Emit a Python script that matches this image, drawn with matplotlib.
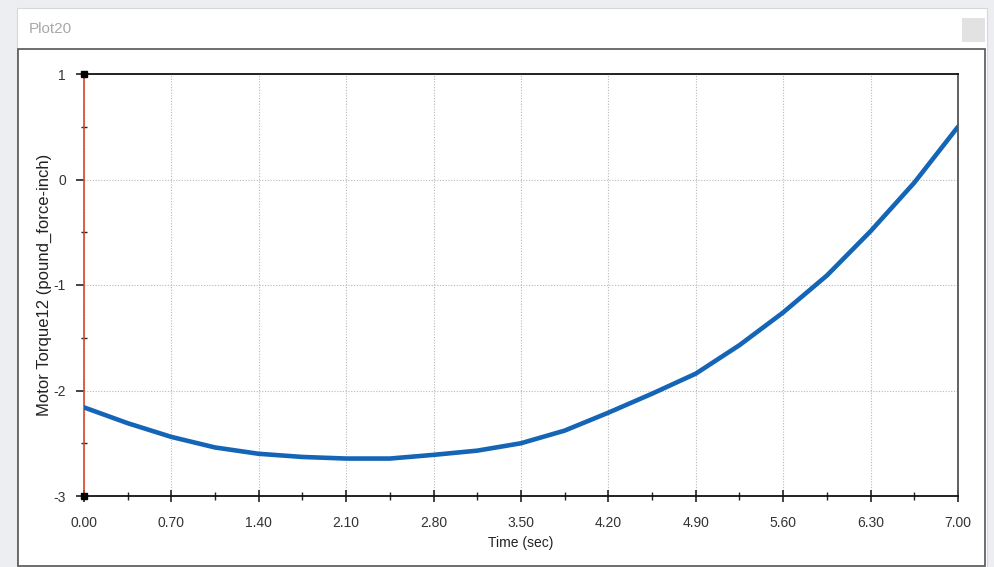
import numpy as np
import matplotlib.pyplot as plt
from matplotlib.patches import Rectangle
from matplotlib.ticker import MultipleLocator, FormatStrFormatter

plt.rcParams['font.family'] = ['Liberation Sans', 'DejaVu Sans']
plt.rcParams['axes.unicode_minus'] = False

# values
time_sec = [0.0, 0.35, 0.70, 1.05, 1.40, 1.75, 2.10, 2.45, 2.80, 3.15, 3.50,
            3.85, 4.20, 4.55, 4.90, 5.25, 5.60, 5.95, 6.30, 6.65, 7.00]
torque = [-2.16, -2.31, -2.44, -2.54, -2.60, -2.63, -2.645, -2.645, -2.61, -2.57, -2.50,
          -2.38, -2.21, -2.03, -1.84, -1.57, -1.26, -0.91, -0.49, -0.03, 0.50]

x_ticks = [0.0, 0.7, 1.4, 2.1, 2.8, 3.5, 4.2, 4.9, 5.6, 6.3, 7.0]
y_ticks = [-3, -2, -1, 0, 1]

W, H = 995, 567
fig = plt.figure(figsize=(W / 100, H / 100), dpi=100, facecolor='#eceef1')

def fx(px):
    return px / W

def fy(py):
    return 1 - py / H

# window panel + title bar
fig.patches.append(Rectangle((fx(17), fy(567)), fx(970), 559 / H, transform=fig.transFigure,
                             facecolor='white', edgecolor='#d8d8d8', lw=0.8, zorder=-5))
fig.patches.append(Rectangle((fx(18), fy(566)), fx(967), 517 / H, transform=fig.transFigure,
                             facecolor='white', edgecolor='#555555', lw=1.2, zorder=-5))
fig.patches.append(Rectangle((fx(962), fy(42)), fx(23), 24 / H, transform=fig.transFigure,
                             facecolor='#e2e2e2', edgecolor='none', zorder=-5))
fig.text(fx(29), fy(29), 'Plot20', color='#a8a8a8', fontsize=11, va='center', ha='left')

ax = fig.add_axes([fx(84), fy(496), fx(958 - 84), (496 - 74) / H])
ax.set_facecolor('white')

ax.plot(time_sec, torque, color='#1565b6', lw=3.3, solid_capstyle='round',
        solid_joinstyle='round', zorder=3)

ax.set_xlim(0, 7)
ax.set_ylim(-3, 1)
ax.xaxis.set_minor_locator(MultipleLocator(0.35))
ax.yaxis.set_minor_locator(MultipleLocator(0.5))
ax.set_xticks(x_ticks)
ax.set_yticks(y_ticks)
ax.xaxis.set_major_formatter(FormatStrFormatter('%.2f'))

ax.grid(True, which='major', color='#b8b8b8', lw=0.8, linestyle=(0, (1, 1.5)))

ax.tick_params(axis='x', which='major', direction='inout', length=9, width=1.2,
               color='#222222', labelsize=10, labelcolor='#333333', pad=10)
ax.tick_params(axis='x', which='minor', direction='inout', length=6, width=1.0, color='#222222')
ax.tick_params(axis='y', which='major', direction='out', length=6, width=1.2,
               color='#222222', labelsize=10, labelcolor='#333333', pad=7)
ax.tick_params(axis='y', which='minor', direction='inout', length=5, width=1.0, color='#222222')

for s in ['top', 'bottom']:
    ax.spines[s].set_color('#111111')
    ax.spines[s].set_linewidth(1.3)
ax.spines['right'].set_color('#555555')
ax.spines['right'].set_linewidth(1.3)
ax.spines['left'].set_color('#d9442a')
ax.spines['left'].set_linewidth(1.2)

# end markers on the left axis
ax.plot([0, 0], [1, 0], transform=ax.transAxes, ls='none', marker='s', ms=5,
        color='black', clip_on=False, zorder=5)

ax.set_xlabel('Time (sec)', fontsize=10, color='#222222', labelpad=4)
ax.set_ylabel('Motor Torque12 (pound_force-inch)', fontsize=12, color='#222222', labelpad=1)

fig.savefig('out.png', dpi=100, facecolor=fig.get_facecolor())
